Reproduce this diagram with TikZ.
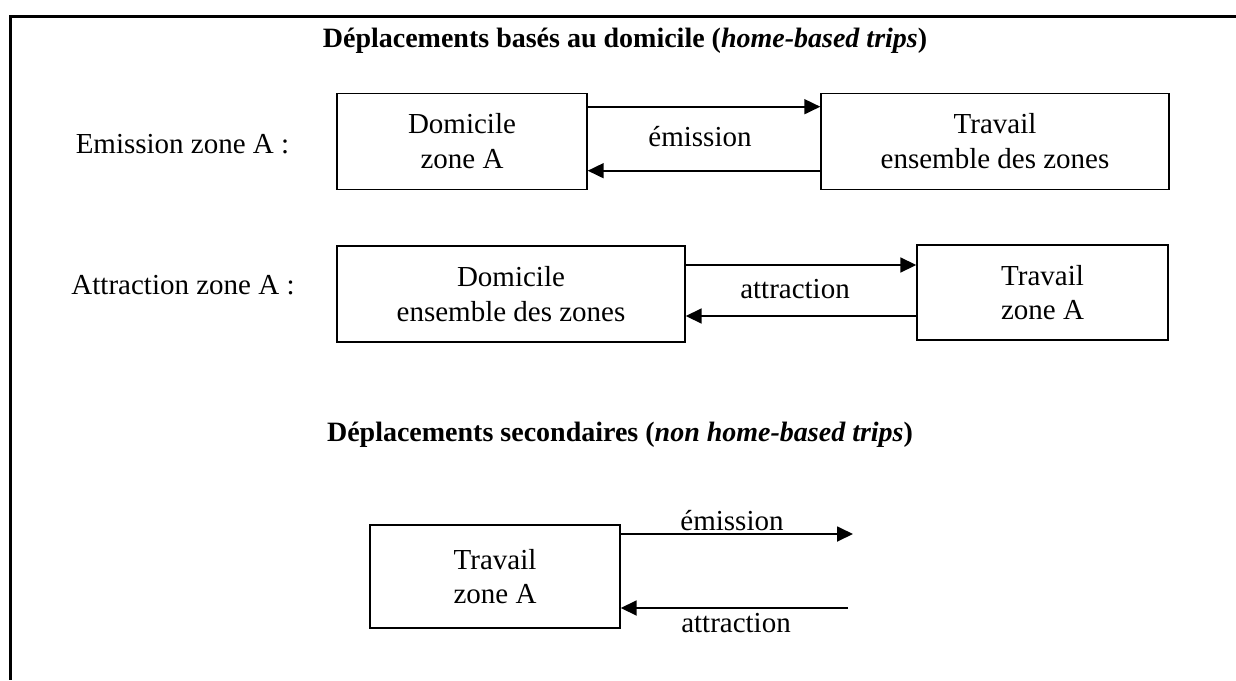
\documentclass[tikz,border=0pt]{standalone}
\usepackage{fontspec}
\setmainfont{Liberation Serif}
\usetikzlibrary{arrows.meta}
\begin{document}
\begin{tikzpicture}[x=1pt,y=-1pt,
  boxnode/.style={draw,line width=1.4pt,inner sep=0pt,align=center,
    font=\fontsize{29}{34.5}\selectfont},
  lbl/.style={anchor=base,inner sep=0pt,font=\fontsize{29}{34}\selectfont},
  ttl/.style={anchor=base,inner sep=0pt,font=\fontsize{28}{34}\selectfont\bfseries},
  arr/.style={line width=1.8pt,-{Triangle[length=16pt 0,width=15pt 0]}},
  frame/.style={line width=3pt}]
\useasboundingbox (0,0) rectangle (1236,680);
% frame
\coordinate (ftr) at (1236,16.5);
\coordinate (ftl) at (10,16.5);
\coordinate (fbl) at (10,680);
\draw[frame] (ftr) -- (ftl) -- (fbl);
% titles
\node[ttl] (t1) at (625,47) {Déplacements basés au domicile (\textit{home-based trips})};
\node[ttl] (t2) at (620,441) {Déplacements secondaires (\textit{non home-based trips})};
% row labels
\node[lbl] (l1) at (182.5,153) {Emission zone A :};
\node[lbl] (l2) at (183,294) {Attraction zone A :};
% boxes
\node[boxnode,minimum width=250pt,minimum height=96pt] (b1) at (462,141.3) {Domicile\\zone A};
\node[boxnode,minimum width=348pt,minimum height=96pt] (b2) at (995,141.3) {Travail\\ensemble des zones};
\node[boxnode,minimum width=348pt,minimum height=96pt] (b3) at (511,294) {Domicile\\ensemble des zones};
\node[boxnode,minimum width=251pt,minimum height=95pt] (b4) at (1042.5,292.5) {Travail\\zone A};
\node[boxnode,minimum width=250pt,minimum height=103pt] (b5) at (495,576.5) {Travail\\zone A};
% row 1 arrows
\coordinate (r1a) at (0,106.7);
\coordinate (r1b) at (0,170.7);
\draw[arr] (b1.east |- r1a) -- (b2.west |- r1a);
\draw[arr] (b2.west |- r1b) -- (b1.east |- r1b);
\node[lbl] (m1) at (700,146.7) {émission};
% row 2 arrows
\coordinate (r2a) at (0,265);
\coordinate (r2b) at (0,316);
\draw[arr] (b3.east |- r2a) -- (b4.west |- r2a);
\draw[arr] (b4.west |- r2b) -- (b3.east |- r2b);
\node[lbl] (m2) at (795,298) {attraction};
% row 3 arrows
\coordinate (e1) at (853,534);
\coordinate (a1) at (848,608);
\draw[arr] (b5.east |- e1) -- (e1);
\draw[arr] (a1) -- (b5.east |- a1);
\node[lbl] (m3) at (732,530) {émission};
\node[lbl] (m4) at (736,632) {attraction};
\end{tikzpicture}
\end{document}
